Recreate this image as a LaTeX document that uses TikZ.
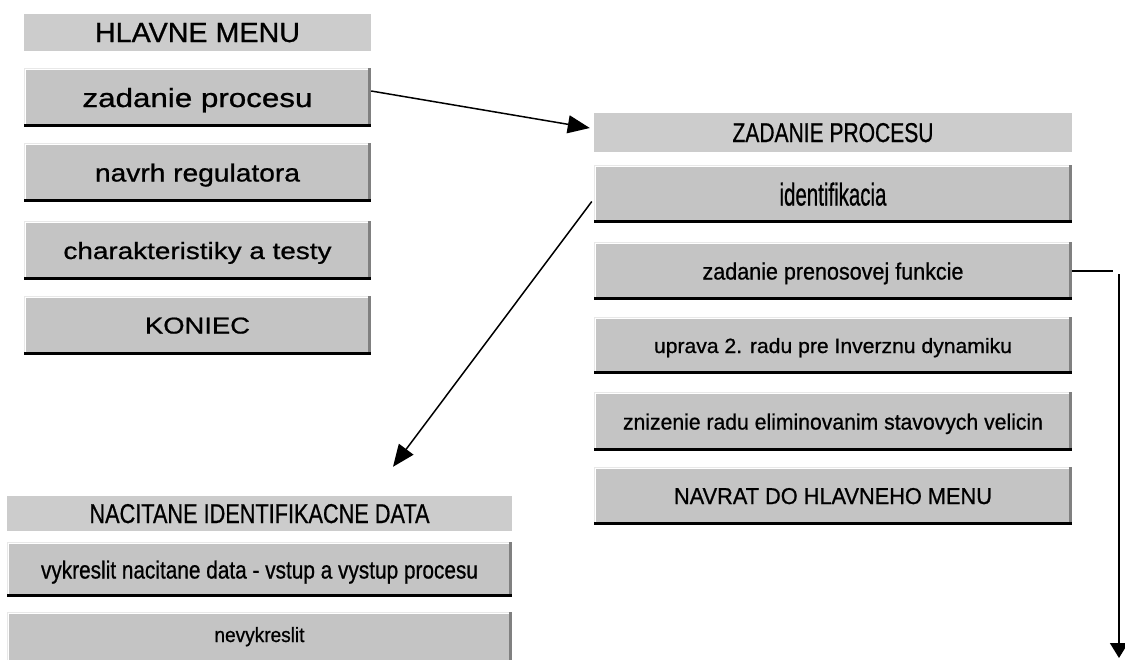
\documentclass[tikz,border=0pt]{standalone}
\usepackage{fontspec}
\setmainfont{Liberation Sans}
\newfontfamily\uifont{Liberation Sans}[FakeBold=0.8]
\usepackage{graphicx}
\usetikzlibrary{arrows.meta}
\definecolor{face}{RGB}{196,196,196}
\definecolor{lab}{RGB}{204,204,204}
\definecolor{shade}{RGB}{128,128,128}
\definecolor{hilite}{RGB}{232,232,232}
\newcommand{\fittext}[3]{\raisebox{0pt}[\height][0pt]{\resizebox{#1pt}{#2pt}{\uifont #3}}}
\begin{document}
\begin{tikzpicture}[x=1pt,y=-1pt,
  lbl/.style={rectangle, fill=lab, inner sep=0pt},
  btn/.style={rectangle, fill=face, inner sep=0pt},
  hl/.style={fill=hilite},
  hw/.style={fill=white},
  sh/.style={fill=shade},
  bk/.style={fill=black},
  colL/.style={minimum width=347pt},
  colR/.style={minimum width=478pt},
  colB/.style={minimum width=505pt},
  conn/.style={line width=1.5pt, draw=black},
  bigtip/.style={conn, -{Triangle[length=22pt,width=18pt]}},
  smalltip/.style={conn, -{Triangle[length=15pt,width=18pt]}}
]
\useasboundingbox (0,0) rectangle (1125,659);
\clip (0,0) rectangle (1125,659);

% left column
\node[lbl, colL, minimum height=37pt] (hm) at (197.5,32.5) {\fittext{205}{19}{HLAVNE MENU}};
\node[btn, colL, minimum height=59pt] (b1) at (197.5,97.5) {\fittext{230}{19}{zadanie procesu}};
\node[btn, colL, minimum height=59pt] (b2) at (197.5,172.5) {\fittext{205}{18}{navrh regulatora}};
\node[btn, colL, minimum height=59pt] (b3) at (197.5,250.5) {\fittext{268}{17}{charakteristiky a testy}};
\node[btn, colL, minimum height=59pt] (b4) at (197.5,325.5) {\fittext{105}{16}{KONIEC}};

% right column
\node[lbl, colR, minimum height=39pt] (zp) at (833,132.5) {\fittext{201}{19}{ZADANIE PROCESU}};
\node[btn, colR, minimum height=58pt] (id) at (833,194) {\fittext{107}{23}{identifikacia}};
\node[btn, colR, minimum height=58pt] (pf) at (833,271) {\fittext{261}{17}{zadanie prenosovej funkcie}};
\node[btn, colR, minimum height=57pt] (up) at (833,345.5) {\fittext{358}{15}{uprava 2. radu pre Inverznu dynamiku}};
\node[btn, colR, minimum height=59pt] (zn) at (833,421.5) {\fittext{420}{16}{znizenie radu eliminovanim stavovych velicin}};
\node[btn, colR, minimum height=58pt] (nv) at (833,496) {\fittext{318}{16}{NAVRAT DO HLAVNEHO MENU}};

% bottom block
\node[lbl, colB, minimum height=35pt] (nac) at (259.5,513.5) {\fittext{340}{19}{NACITANE IDENTIFIKACNE DATA}};
\node[btn, colB, minimum height=55pt] (vyk) at (259.5,569.5) {\fittext{437}{18}{vykreslit nacitane data - vstup a vystup procesu}};
\node[btn, colB, minimum height=58pt] (nev) at (259.5,641) {\raisebox{13pt}{\fittext{90}{15}{nevykreslit}}};

% 3D button edges
\foreach \n in {b1,b2,b3,b4,id,pf,up,zn,nv,vyk,nev} {
  \path[hl] (\n.south west) rectangle ([xshift=2.5pt]\n.north west);
  \path[hl] ([yshift=-2.5pt]\n.north west) rectangle (\n.north east);
  \path[hw] ([xshift=1pt]\n.south west) rectangle ([xshift=2.5pt,yshift=-1pt]\n.north west);
  \path[hw] ([xshift=1pt,yshift=-2.5pt]\n.north west) rectangle ([yshift=-1pt]\n.north east);
  \path[sh] ([xshift=-3.5pt]\n.south east) rectangle (\n.north east);
  \path[bk] (\n.south west) rectangle ([yshift=3pt]\n.south east);
}

% connectors
\draw[bigtip] ([yshift=6.5pt]b1.east) -- ([xshift=-4pt,yshift=4.5pt]zp.west);
\draw[bigtip] ([xshift=-2pt,yshift=-7.5pt]id.west) -- ([xshift=133.5pt,yshift=29pt]nac.north);
\coordinate (c1) at (1113,271);
\coordinate (c2) at (1119,274);
\coordinate (c3) at (1119,658);
\draw[conn] (pf.east) -- (c1);
\draw[smalltip] (c2) -- (c3);
\end{tikzpicture}
\end{document}
